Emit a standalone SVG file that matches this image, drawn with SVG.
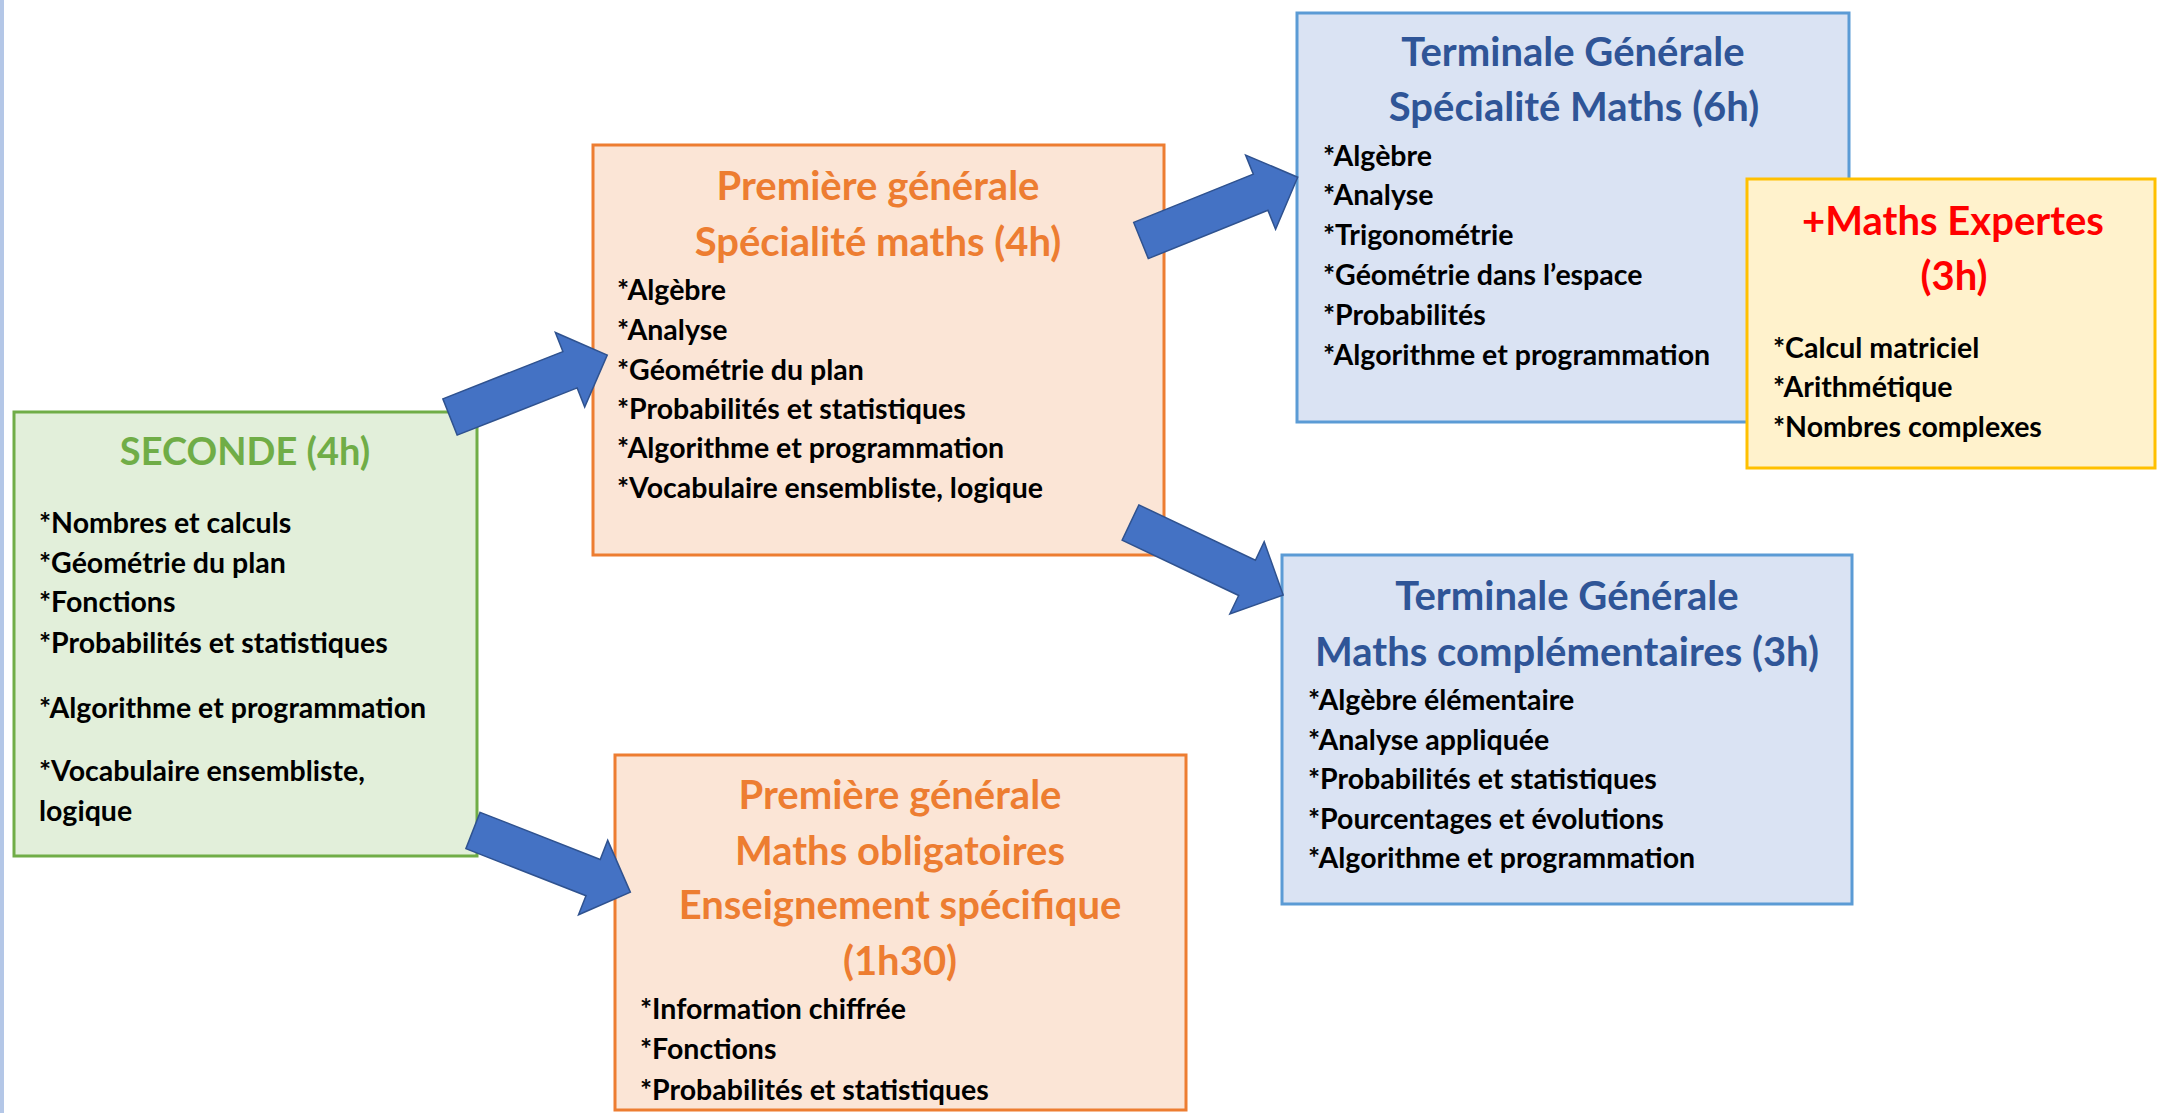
<svg xmlns="http://www.w3.org/2000/svg" width="2157" height="1113" viewBox="0 0 2157 1113">
<style>
.t{font-family:Lato,"Open Sans","Liberation Sans",sans-serif;font-weight:700;font-size:40px;text-anchor:middle}
.b{font-family:Lato,"Open Sans","Liberation Sans",sans-serif;font-weight:700;font-size:28.5px;fill:#000}
.green{fill:#E2EFDA;stroke:#70AD47;stroke-width:3}
.orange{fill:#FBE5D6;stroke:#ED7D31;stroke-width:3}
.blue{fill:#DAE3F3;stroke:#5B9BD5;stroke-width:3}
.yellow{fill:#FFF2CC;stroke:#FFC000;stroke-width:3}
.arrow{fill:#4472C4;stroke:#2F528F;stroke-width:1.5}
</style>
<defs>
<path id="blk" d="M0,-19.5 L129,-19.5 L129,-40 L169,0 L129,40 L129,19.5 L0,19.5 Z"/>
<clipPath id="clipB"><rect x="600" y="740" width="600" height="366"/></clipPath>
</defs>
<rect x="0" y="0" width="2157" height="1113" fill="#FFFFFF"/>
<rect x="0" y="0" width="4" height="1113" fill="#B4C7E7"/>

<g id="seconde">
<rect class="green" x="14" y="412" width="463" height="444"/>
<text class="t" x="245" y="465" fill="#70AD47" style="font-size:38px">SECONDE (4h)</text>
<text class="b" x="39" y="533">*Nombres et calculs</text>
<text class="b" x="39" y="573">*Géométrie du plan</text>
<text class="b" x="39" y="612">*Fonctions</text>
<text class="b" x="39" y="653">*Probabilités et statistiques</text>
<text class="b" x="39" y="718">*Algorithme et programmation</text>
<text class="b" x="39" y="781">*Vocabulaire ensembliste,</text>
<text class="b" x="39" y="821">logique</text>
</g>

<g id="premiere-specialite">
<rect class="orange" x="593" y="145" width="571" height="410"/>
<text class="t" x="878" y="200" fill="#ED7D31">Première générale</text>
<text class="t" x="878" y="256" fill="#ED7D31">Spécialité maths (4h)</text>
<text class="b" x="617" y="300">*Algèbre</text>
<text class="b" x="617" y="340">*Analyse</text>
<text class="b" x="617" y="380">*Géométrie du plan</text>
<text class="b" x="617" y="419">*Probabilités et statistiques</text>
<text class="b" x="617" y="458">*Algorithme et programmation</text>
<text class="b" x="617" y="498">*Vocabulaire ensembliste, logique</text>
</g>

<g id="premiere-obligatoire">
<rect x="615" y="755" width="571" height="355" fill="#FBE5D6"/>
<text class="t" x="900" y="809" fill="#ED7D31">Première générale</text>
<text class="t" x="900" y="865" fill="#ED7D31">Maths obligatoires</text>
<text class="t" x="900" y="919" fill="#ED7D31">Enseignement spécifique</text>
<text class="t" x="900" y="975" fill="#ED7D31">(1h30)</text>
<g clip-path="url(#clipB)">
<text class="b" x="640" y="1019">*Information chiffrée</text>
<text class="b" x="640" y="1059">*Fonctions</text>
<text class="b" x="640" y="1100">*Probabilités et statistiques</text>
</g>
<rect x="615" y="755" width="571" height="355" fill="none" stroke="#ED7D31" stroke-width="3"/>
</g>

<g id="terminale-specialite">
<rect class="blue" x="1297" y="13" width="552" height="409"/>
<text class="t" x="1573" y="66" fill="#2F5597">Terminale Générale</text>
<text class="t" x="1574" y="121" fill="#2F5597">Spécialité Maths (6h)</text>
<text class="b" x="1323" y="166">*Algèbre</text>
<text class="b" x="1323" y="205">*Analyse</text>
<text class="b" x="1323" y="245">*Trigonométrie</text>
<text class="b" x="1323" y="285">*Géométrie dans l’espace</text>
<text class="b" x="1323" y="325">*Probabilités</text>
<text class="b" x="1323" y="365">*Algorithme et programmation</text>
</g>

<g id="maths-expertes">
<rect class="yellow" x="1747" y="179" width="408" height="289"/>
<text class="t" x="1953" y="235" fill="#FF0000">+Maths Expertes</text>
<text class="t" x="1954" y="290" fill="#FF0000">(3h)</text>
<text class="b" x="1773" y="358">*Calcul matriciel</text>
<text class="b" x="1773" y="397">*Arithmétique</text>
<text class="b" x="1773" y="437">*Nombres complexes</text>
</g>

<g id="terminale-complementaires">
<rect class="blue" x="1282" y="555" width="570" height="349"/>
<text class="t" x="1567" y="610" fill="#2F5597">Terminale Générale</text>
<text class="t" x="1567" y="666" fill="#2F5597">Maths complémentaires (3h)</text>
<text class="b" x="1308" y="710">*Algèbre élémentaire</text>
<text class="b" x="1308" y="750">*Analyse appliquée</text>
<text class="b" x="1308" y="789">*Probabilités et statistiques</text>
<text class="b" x="1308" y="829">*Pourcentages et évolutions</text>
<text class="b" x="1308" y="868">*Algorithme et programmation</text>
</g>

<g id="connectors">
<use href="#blk" class="arrow" transform="translate(450,417) rotate(-21.5)"/>
<use href="#blk" class="arrow" transform="translate(1141,240.5) rotate(-22)"/>
<use href="#blk" class="arrow" transform="translate(473,830.5) rotate(21.4)"/>
<use href="#blk" class="arrow" transform="translate(1130.5,522.5) rotate(25.4)"/>
</g>
</svg>
